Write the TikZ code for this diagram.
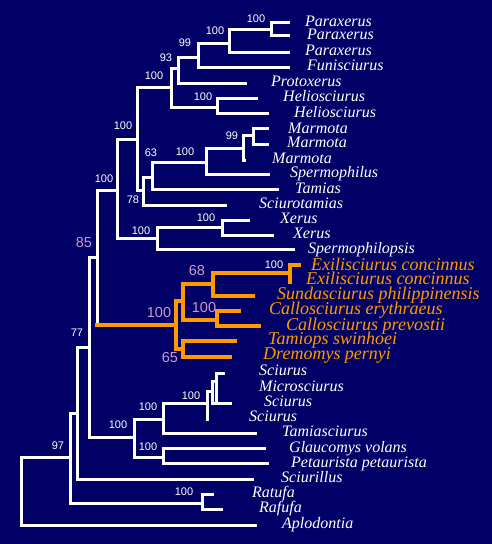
\documentclass[tikz,border=0pt]{standalone}
\usepackage{fontspec}
\setmainfont{Liberation Serif}
\newfontfamily\numfont{Liberation Sans}
\definecolor{bg}{RGB}{0,0,102}
\definecolor{treeorange}{RGB}{255,153,0}
\definecolor{pinklab}{RGB}{204,153,204}
\begin{document}
\begin{tikzpicture}[x=1pt,y=-1pt,
 br/.style={draw=white,line width=3pt,line cap=rect},
 obr/.style={draw=treeorange,line width=3.5pt,line cap=rect},
 taxon/.style={anchor=base west,inner sep=0pt,text=white,font=\fontsize{16}{16}\selectfont\itshape},
 otaxon/.style={anchor=base west,inner sep=0pt,text=treeorange,font=\fontsize{18}{18}\selectfont\itshape},
 boot/.style={inner sep=0pt,text=white,font=\numfont\fontsize{11}{11}\selectfont},
 pboot/.style={inner sep=0pt,text=pinklab,font=\numfont\fontsize{14.5}{14.5}\selectfont},
]
\fill[bg] (0,0) rectangle (492,544);
\useasboundingbox (0,0) rectangle (492,544);
% leaves
\coordinate (l1) at (288,22);
\coordinate (l2) at (288,35);
\coordinate (l3) at (288,52);
\coordinate (l4) at (288,67);
\coordinate (l5) at (245,83);
\coordinate (l6) at (256,98);
\coordinate (l7) at (267,113);
\coordinate (l8) at (267,128);
\coordinate (l9) at (267,144);
\coordinate (l10) at (244,160);
\coordinate (l11) at (268,174);
\coordinate (l12) at (277,189);
\coordinate (l13) at (225,205);
\coordinate (l14) at (248,220);
\coordinate (l15) at (272,235);
\coordinate (l16) at (293,249);
\coordinate (l17) at (299,265);
\coordinate (l18) at (290,282);
\coordinate (l19) at (253,296);
\coordinate (l20) at (239,311);
\coordinate (l21) at (259,326);
\coordinate (l22) at (235,341);
\coordinate (l23) at (230,357);
\coordinate (l24) at (223,373);
\coordinate (l25) at (215,381);
\coordinate (l26) at (230,403);
\coordinate (l27) at (207,419);
\coordinate (l28) at (255,433);
\coordinate (l29) at (264,448);
\coordinate (l30) at (267,463);
\coordinate (l31) at (252,479);
\coordinate (l32) at (212,494);
\coordinate (l33) at (221,509);
\coordinate (l34) at (255,525);
% internal nodes
\coordinate (na) at (271,29);
\coordinate (nb) at (229,43);
\coordinate (nc) at (198,57);
\coordinate (nd) at (178,68);
\coordinate (ne) at (217,107);
\coordinate (nf) at (171,87);
\coordinate (ng) at (253,135);
\coordinate (nh) at (243,148);
\coordinate (ni) at (206,162);
\coordinate (nj) at (152,177);
\coordinate (nk) at (143,190);
\coordinate (nl) at (137,139);
\coordinate (nm) at (222,227);
\coordinate (nn) at (157,238);
\coordinate (no) at (117,190);
\coordinate (np) at (290,273);
\coordinate (nq) at (213,284);
\coordinate (nr) at (217,320);
\coordinate (ns) at (183,301);
\coordinate (nt) at (183,349);
\coordinate (nu) at (176,325);
\coordinate (nv) at (97,257);
\coordinate (nw) at (89,347);
\coordinate (ny3) at (216,403);
\coordinate (ny2) at (212,391);
\coordinate (ny) at (207,403);
\coordinate (nz) at (163,419);
\coordinate (naa) at (163,457);
\coordinate (nx) at (134,437);
\coordinate (nab) at (77,413);
\coordinate (nac) at (202,503);
\coordinate (nad) at (70,457);
\coordinate (root) at (21,491);
% white branches
\draw[br] (l1) -| (na) |- (l2);
\draw[br] (na) -| (nb) |- (l3);
\draw[br] (nb) -| (nc) |- (l4);
\draw[br] (nc) -| (nd) |- (l5);
\draw[br] (l6) -| (ne) |- (l7);
\draw[br] (nd) -| (nf) |- (ne);
\draw[br] (l8) -| (ng) |- (l9);
\draw[br] (ng) -| (nh) |- (l10);
\draw[br] (nh) -| (ni) |- (l11);
\draw[br] (ni) -| (nj) |- (l12);
\draw[br] (nj) -| (nk) |- (l13);
\draw[br] (nf) -| (nl) |- (nk);
\draw[br] (l14) -| (nm) |- (l15);
\draw[br] (nm) -| (nn) |- (l16);
\draw[br] (nl) -| (no) |- (nn);
\draw[br] (no) -| (nv) -- (nv |- nu);
\draw[br] (nv) -| (nw) |- (nx);
\draw[br] (l24) -| (ny3) |- (l26);
\draw[br] (ny3) -| (ny2) |- (l25);
\draw[br] (ny2) -| (ny) |- (l27);
\draw[br] (ny) -| (nz) |- (l28);
\draw[br] (l29) -| (naa) |- (l30);
\draw[br] (nz) -| (nx) |- (naa);
\draw[br] (nw) -| (nab) |- (l31);
\draw[br] (l32) -| (nac) |- (l33);
\draw[br] (nab) -| (nad) |- (nac);
\draw[br] (nad) -| (root) |- (l34);
% orange branches
\draw[obr] (nv |- nu) -- (nu);
\draw[obr] (l17) -| (np) |- (l18);
\draw[obr] (np) -| (nq) |- (l19);
\draw[obr] (l20) -| (nr) |- (l21);
\draw[obr] (nq) -| (ns) |- (nr);
\draw[obr] (l22) -| (nt) |- (l23);
\draw[obr] (ns) -| (nu) |- (nt);
% taxa
\node[taxon] (t1) at (305,26) {Paraxerus};
\node[taxon] (t2) at (307,39.5) {Paraxerus};
\node[taxon] (t3) at (305,55) {Paraxerus};
\node[taxon] (t4) at (307,70.5) {Funisciurus};
\node[taxon] (t5) at (271,86) {Protoxerus};
\node[taxon] (t6) at (283,101.5) {Heliosciurus};
\node[taxon] (t7) at (294,117) {Heliosciurus};
\node[taxon] (t8) at (288,133) {Marmota};
\node[taxon] (t9) at (287,147.5) {Marmota};
\node[taxon] (t10) at (272,163) {Marmota};
\node[taxon] (t11) at (290,177.5) {Spermophilus};
\node[taxon] (t12) at (295,193) {Tamias};
\node[taxon] (t13) at (259,208) {Sciurotamias};
\node[taxon] (t14) at (280,223) {Xerus};
\node[taxon] (t15) at (293,238) {Xerus};
\node[taxon] (t16) at (308,253.5) {Spermophilopsis};
\node[otaxon] (t17) at (311,270) {Exilisciurus concinnus};
\node[otaxon] (t18) at (306,284.5) {Exilisciurus concinnus};
\node[otaxon] (t19) at (277,299) {Sundasciurus philippinensis};
\node[otaxon] (t20) at (269,314) {Callosciurus erythraeus};
\node[otaxon] (t21) at (286,330) {Callosciurus prevostii};
\node[otaxon] (t22) at (268,344.5) {Tamiops swinhoei};
\node[otaxon] (t23) at (263,359.5) {Dremomys pernyi};
\node[taxon] (t24) at (259,375) {Sciurus};
\node[taxon] (t25) at (259,391) {Microsciurus};
\node[taxon] (t26) at (264,406) {Sciurus};
\node[taxon] (t27) at (249,421) {Sciurus};
\node[taxon] (t28) at (282,436) {Tamiasciurus};
\node[taxon] (t29) at (289,452) {Glaucomys volans};
\node[taxon] (t30) at (291,467) {Petaurista petaurista};
\node[taxon] (t31) at (281,482) {Sciurillus};
\node[taxon] (t32) at (252,497) {Ratufa};
\node[taxon] (t33) at (259,512) {Rafufa};
\node[taxon] (t34) at (282,528) {Aplodontia};
% bootstrap values
\node[boot] (b1) at (256,19) {100};
\node[boot] (b2) at (215,31) {100};
\node[boot] (b3) at (185,43) {99};
\node[boot] (b4) at (166,58) {93};
\node[boot] (b5) at (154,76) {100};
\node[boot] (b6) at (203,97) {100};
\node[boot] (b7) at (123,126) {100};
\node[boot] (b8) at (151,153) {63};
\node[boot] (b9) at (185,152) {100};
\node[boot] (b10) at (232,136) {99};
\node[boot] (b11) at (133,200) {78};
\node[boot] (b12) at (104,179) {100};
\node[boot] (b13) at (141,231) {100};
\node[boot] (b14) at (206,218) {100};
\node[boot] (b15) at (77,333) {77};
\node[boot] (b16) at (274,265) {100};
\node[boot] (b17) at (191,396) {100};
\node[boot] (b18) at (148,407) {100};
\node[boot] (b19) at (118,425) {100};
\node[boot] (b20) at (148,447) {100};
\node[boot] (b21) at (58,446) {97};
\node[boot] (b22) at (184,492) {100};
\node[pboot] (p1) at (84,243) {85};
\node[pboot] (p2) at (159,313) {100};
\node[pboot] (p3) at (197,271) {68};
\node[pboot] (p4) at (204,308) {100};
\node[pboot] (p5) at (170,358) {65};
\end{tikzpicture}
\end{document}
